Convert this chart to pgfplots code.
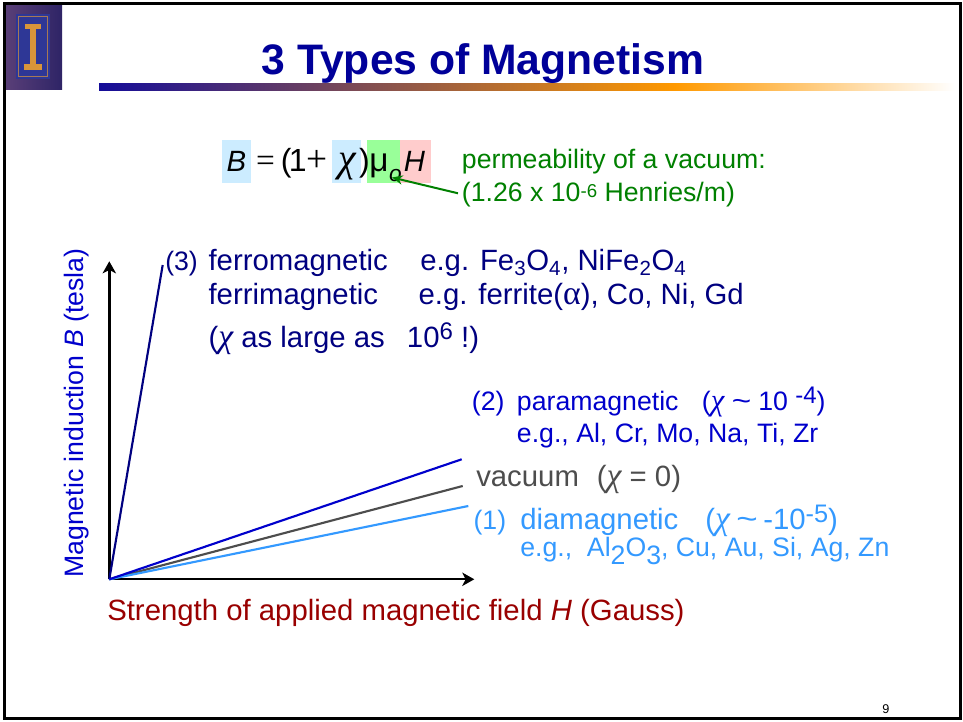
\documentclass[border=0pt]{standalone}
\usepackage{fontspec}
\setmainfont{Liberation Sans}
\newfontfamily\sym{Liberation Serif}
\usepackage{graphicx}
\usepackage{pgfplots}
\pgfplotsset{compat=1.18}
\usetikzlibrary{arrows.meta}

\definecolor{navy}{HTML}{000080}
\definecolor{para}{HTML}{0000CC}
\definecolor{dia}{HTML}{3399FF}
\definecolor{vac}{HTML}{4D4D4D}
\definecolor{xred}{HTML}{990000}
\definecolor{titleblue}{HTML}{000099}
\definecolor{grn}{HTML}{008000}
\definecolor{hlblue}{HTML}{CCECFF}
\definecolor{hlgreen}{HTML}{99FF99}
\definecolor{hlpink}{HTML}{FFCCCC}
\definecolor{barblue}{HTML}{140C99}
\definecolor{orng}{HTML}{FF9900}
\definecolor{logoL}{HTML}{5A3F78}
\definecolor{logoO}{HTML}{F7961E}
\definecolor{logoR}{HTML}{2E2466}
\definecolor{logoB}{HTML}{2E3796}
\definecolor{logoI}{HTML}{D9953A}

\newcommand{\fs}[1]{\fontsize{#1}{#1}\selectfont}
\newcommand{\up}[3]{\raisebox{#1}{\fs{#2}#3}}
\newcommand{\chig}{\scalebox{1.15}{\sym\itshape χ}}
\newcommand{\tl}{\scalebox{1.25}[1.05]{\textasciitilde}}

\begin{document}
\begin{tikzpicture}[x=0.75pt,y=0.75pt]
\fill[white] (0,0) rectangle (963,721);

% logo
\shade[left color=logoL, middle color=logoO, right color=logoR] (5,721-4) rectangle (62,721-90);
\fill[logoB] (16,721-14) rectangle (50,721-79);
\draw[logoI!70!logoB, line width=0.8pt] (18.5,721-16.5) rectangle (47.5,721-76.5);
\fill[logoI] (25,721-24) rectangle (41,721-29);
\fill[logoI] (30,721-29) rectangle (36,721-65);
\fill[logoI] (24,721-64) rectangle (42,721-70);

% title bar
\shade[left color=barblue, right color=orng] (99,721-84) rectangle (675,721-90.5);
\shade[left color=orng, right color=white] (674.5,721-84) rectangle (955,721-90.5);

% frame
\draw[black, line width=1.9pt] (4.5,721-3.5) rectangle (960.5,721-718.5);

% title
\node[anchor=base, inner sep=0, text=titleblue, font=\fs{32}\bfseries] at (483,721-75) {3 Types of Magnetism};

% equation
\fill[hlblue] (222.3,721-140) rectangle (251,721-183.3);
\fill[hlblue] (331.7,721-140) rectangle (360.7,721-183.3);
\fill[hlgreen] (366.7,721-140) rectangle (400,721-183.3);
\fill[hlpink] (400,721-140) rectangle (431,721-183.3);
\begin{scope}[every node/.style={inner sep=0, font=\fs{22}, anchor=base}]
\node at (236.5,721-171.7) {\itshape B};
\node[font=\fs{25}\sym] at (265.5,721-171.7) {=};
\node[font=\fs{24}] at (286.3,721-171.7) {(};
\node[font=\fs{24}] at (297.8,721-171.7) {1};
\node[font=\fs{28}\sym] at (316.7,721-171.7) {+};
\node[font=\fs{30}] at (347,721-171.7) {\sym\itshape χ};
\node[font=\fs{24}] at (364.5,721-171.7) {)};
\node[font=\fs{25}] at (379,721-171.7) {μ};
\node[font=\fs{17}\itshape] at (395.5,721-182) {o};
\node at (414.5,721-171.7) {\itshape H};
\end{scope}

% green annotation
\begin{scope}[every node/.style={inner sep=0, text=grn, font=\fs{20}, anchor=base west}]
\node at (461.7,721-168.3) {permeability of a vacuum:};
\node at (461.7,721-201.7) {(1.26 x 10\up{3.5pt}{14}{-6} Henries/m)};
\end{scope}
\draw[grn, line width=1.5pt, -{Stealth[length=8pt,width=7pt]}] (458,721-193.3) -- (392,721-177.5);

% chart
\begin{axis}[at={(109.3,721-579.3)}, anchor=south west, scale only axis,
  width=273.75pt, height=238.5pt,
  xmin=0, xmax=365, ymin=0, ymax=318,
  axis lines=left,
  axis line style={line width=1.8pt, -{Stealth[length=9pt,width=10pt,inset=2.5pt]}},
  xtick=\empty, ytick=\empty, clip=false]
\addplot[navy, line width=1.6pt] coordinates {(0,0) (53.4,314.3)};
\addplot[vac, line width=1.6pt] coordinates {(0,0) (353.4,93.3)};
\addplot[dia, line width=1.6pt] coordinates {(0,0) (359,73.3)};
\addplot[para, line width=1.6pt] coordinates {(0,0) (352.4,120)};
\end{axis}

% axis labels
\node[rotate=90, anchor=base west, inner sep=0, text=para, font=\fs{20}] at (83.5,721-578) {Magnetic induction \textit{B} (tesla)};
\node[anchor=base west, inner sep=0, text=xred, font=\fs{22}] at (107,721-620) {Strength of applied magnetic field \textit{H} (Gauss)};

% ferro block
\begin{scope}[every node/.style={inner sep=0, text=navy, font=\fs{22}, anchor=base west}]
\node[font=\fs{20}] at (165,721-270.7) {(3)};
\node at (208.3,721-270.7) {ferromagnetic};
\node at (420,721-270.7) {e.g. Fe\textsubscript{3}O\textsubscript{4}, NiFe\textsubscript{2}O\textsubscript{4}};
\node at (208.3,721-305) {ferrimagnetic};
\node at (418.3,721-305) {e.g. ferrite(\scalebox{1.15}{\sym α}), Co, Ni, Gd};
\node at (208.3,721-347.3) {(\chig{} as large as};
\node at (406.7,721-347.3) {10\up{5.5pt}{18}{6} !)};
\end{scope}

% para block
\begin{scope}[every node/.style={inner sep=0, text=para, font=\fs{20}, anchor=base west}]
\node at (471.7,721-410.7) {(2)};
\node at (516.7,721-410.7) {paramagnetic};
\node at (701.7,721-410.7) {(\chig};
\node at (731.5,721-410.7) {\tl};
\node at (758,721-410.7) {10 \up{5.5pt}{18}{-4})};
\node at (516.7,721-442.7) {e.g., Al, Cr, Mo, Na, Ti, Zr};
\end{scope}

% vacuum
\begin{scope}[every node/.style={inner sep=0, text=vac, font=\fs{22}, anchor=base west}]
\node at (476,721-486.7) {vacuum};
\node at (596.7,721-486.7) {(\chig{} = 0)};
\end{scope}

% dia block
\begin{scope}[every node/.style={inner sep=0, text=dia, font=\fs{22}, anchor=base west}]
\node[font=\fs{20}] at (473.3,721-530) {(1)};
\node at (520,721-530) {diamagnetic};
\node at (705,721-530) {(\chig};
\node at (736,721-530) {\tl};
\node at (763,721-530) {-10\up{5.3pt}{19}{-5})};
\node[font=\fs{20}] at (520,721-556.7) {e.g.,\ \ Al\raisebox{-6pt}{2}O\raisebox{-6pt}{3}, Cu, Au, Si, Ag, Zn};
\end{scope}

% page number
\node[anchor=base, inner sep=0, font=\fs{9.5}] at (886,721-713) {9};
\end{tikzpicture}
\end{document}
